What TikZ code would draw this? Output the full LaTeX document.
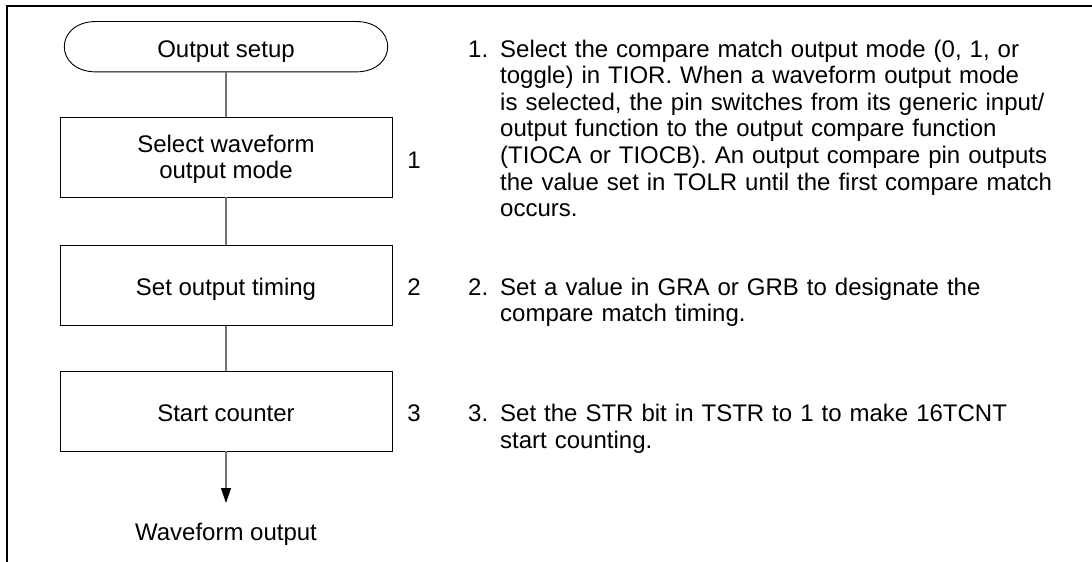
\documentclass[tikz,border=0pt]{standalone}
\usepackage{fontspec}
\setmainfont{Liberation Sans}
\usetikzlibrary{arrows.meta}
\begin{document}
\begin{tikzpicture}[x=1pt,y=-1pt,
  every node/.style={font=\fontsize{24}{26.6}\selectfont, text=black},
  stepbox/.style={draw=black, line width=0.9pt, minimum width=332pt, minimum height=80pt, align=center, inner sep=0pt},
  onelabel/.style={text height=20pt, text depth=0pt},
  link/.style={draw=black!55, line width=1.3pt},
  frame/.style={line width=2pt, draw=black},
  numlabel/.style={anchor=base, inner sep=0pt},
  desc/.style={anchor=base west, inner sep=0pt, text width=600pt, align=left}
]
\useasboundingbox (0,0) rectangle (1092,562);
\draw[frame] (6.5,562) -- (6.5,5.5) -- (1092,5.5);

% terminator
\node[minimum width=259pt, minimum height=50pt, inner sep=0pt, text height=22pt, text depth=0pt] (term) at (226,46.7) {Output setup};
\draw[line width=0.9pt] (term.north west) -- (term.north east)
  .. controls +(42.7,0) and +(42.7,0) .. (term.south east)
  -- (term.south west)
  .. controls +(-42.7,0) and +(-42.7,0) .. (term.north west);

% process boxes
\node[stepbox, text depth=0pt] (b1) at (226,157) {Select waveform\\output mode};
\node[stepbox, onelabel] (b2) at (226,285.5) {Set output timing};
\node[stepbox, onelabel] (b3) at (226,411) {Start counter};
\coordinate (tip) at (226,503);
\node[anchor=base, inner sep=0pt] (wo) at (226,540) {Waveform output};

% connectors
\draw[link] (term.south) -- (b1.north);
\draw[link] (b1.south) -- (b2.north);
\draw[link] (b2.south) -- (b3.north);
\draw[link, -{Triangle[length=15pt,width=10pt,black]}] (b3.south) -- (tip);

% step numbers
\node[numlabel] (n1) at (414,168) {1};
\node[numlabel] (n2) at (414,295) {2};
\node[numlabel] (n3) at (414,421.7) {3};

% descriptions
\node[anchor=base west, inner sep=0pt] (d1n) at (468,57) {1.};
\node[desc] (d1) at (500,57) {Select the compare match output mode (0, 1, or\\
toggle) in TIOR. When a waveform output mode\\
is selected, the pin switches from its generic input/\\
output function to the output compare function\\
(TIOCA or TIOCB). An output compare pin outputs\\
the value set in TOLR until the first compare match\\
occurs.};
\node[anchor=base west, inner sep=0pt] (d2n) at (468,295) {2.};
\node[desc] (d2) at (500,295) {Set a value in GRA or GRB to designate the\\
compare match timing.};
\node[anchor=base west, inner sep=0pt] (d3n) at (468,421.7) {3.};
\node[desc] (d3) at (500,421.7) {Set the STR bit in TSTR to 1 to make 16TCNT\\
start counting.};
\end{tikzpicture}
\end{document}
